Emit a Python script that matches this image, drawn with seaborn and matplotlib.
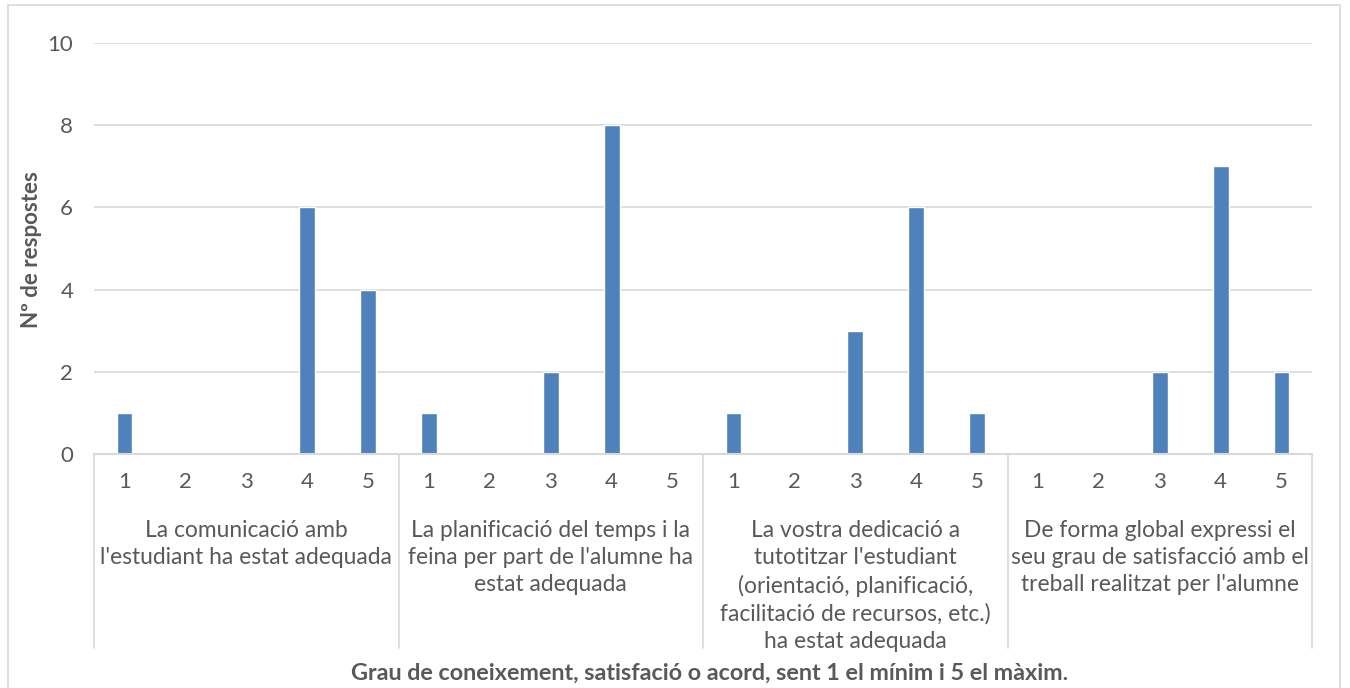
import matplotlib
matplotlib.use("Agg")
import matplotlib.pyplot as plt
import matplotlib.transforms as mtransforms
from matplotlib.patches import Rectangle
import seaborn as sns
import pandas as pd

# Survey answers: number of responses per score (1-5) for each question
groups = [
    "La comunicació amb\nl'estudiant ha estat adequada",
    "La planificació del temps i la\nfeina per part de l'alumne ha\nestat adequada",
    "La vostra dedicació a\ntutotitzar l'estudiant\n(orientació, planificació,\nfacilitació de recursos, etc.)\nha estat adequada",
    "De forma global expressi el\nseu grau de satisfacció amb el\ntreball realitzat per l'alumne",
]
scores = ["1", "2", "3", "4", "5"]
responses_q1 = [1, 0, 0, 6, 4]
responses_q2 = [1, 0, 2, 8, 0]
responses_q3 = [1, 0, 3, 6, 1]
responses_q4 = [0, 0, 2, 7, 2]
all_responses = [responses_q1, responses_q2, responses_q3, responses_q4]
y_ticks = [0, 2, 4, 6, 8, 10]

rows = []
for gi, vals in enumerate(all_responses):
    for s, v in zip(scores, vals):
        rows.append({"slot": f"{gi}-{s}", "score": s, "n": v})
df = pd.DataFrame(rows)

sns.set_theme(style="white")
plt.rcParams["font.family"] = ["Lato", "DejaVu Sans"]

text_col = "#595959"
grid_col = "#D9D9D9"
bar_col = "#4F81BD"
fs = 16

fig = plt.figure(figsize=(13.5, 6.88), dpi=100)
ax = fig.add_axes([94 / 1350, 1 - 454 / 688, (1312 - 94) / 1350, (454 - 43) / 688])

sns.barplot(data=df, x="slot", y="n", order=list(df["slot"]), color=bar_col,
            width=0.26, ax=ax, saturation=1)

ax.set_xlim(-0.5, len(df) - 0.5)
ax.set_ylim(0, 10)
ax.set_yticks(y_ticks)
ax.set_yticklabels([str(t) for t in y_ticks])
ax.yaxis.grid(True, color=grid_col, linewidth=1.2)
ax.set_axisbelow(True)
for side in ["top", "right", "left"]:
    ax.spines[side].set_visible(False)
ax.spines["bottom"].set_color(grid_col)
ax.spines["bottom"].set_linewidth(1.5)
ax.tick_params(axis="y", length=0, pad=15, labelsize=fs, labelcolor=text_col)
ax.tick_params(axis="x", length=0, pad=13, labelsize=fs, labelcolor=text_col)
ax.set_xticks(range(len(df)))
ax.set_xticklabels(df["score"])
ax.set_xlabel("")
ax.set_ylabel("")

fig.text(32 / 1350, 1 - 250 / 688, "Nº de respostes", rotation=90, ha="center", va="center",
         fontsize=fs, fontweight="bold", color=text_col)

trans = mtransforms.blended_transform_factory(ax.transData, ax.transAxes)
n_scores = len(scores)
for gi in range(len(groups) + 1):
    xb = gi * n_scores - 0.5
    ax.plot([xb, xb], [0, -0.472], transform=trans, color=grid_col, lw=1.2, clip_on=False)
for gi, label in enumerate(groups):
    xc = gi * n_scores + (n_scores - 1) / 2
    ax.text(xc, -0.160, label, transform=trans, ha="center", va="top",
            fontsize=16.4, color=text_col, linespacing=1.37)

fig.text(710 / 1350, 1 - 673 / 688, "Grau de coneixement, satisfació o acord, sent 1 el mínim i 5 el màxim.",
         ha="center", va="center", fontsize=16.8, fontweight="bold", color=text_col)

fig.patches.append(Rectangle((8 / 1350, -0.05), (1340 - 8) / 1350, 1.05 - 5 / 688,
                             transform=fig.transFigure, fill=False, edgecolor=grid_col, lw=1.2))

fig.savefig("out.png", dpi=100)
